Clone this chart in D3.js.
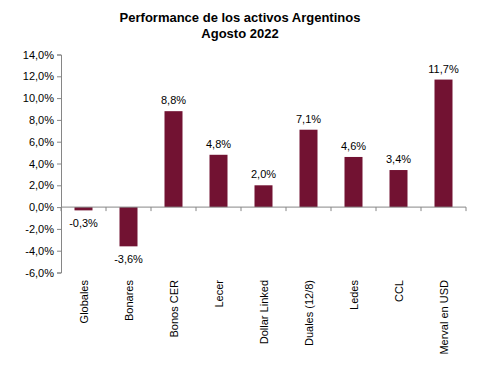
<!DOCTYPE html>
<html><head><meta charset="utf-8">
<script src="https://cdn.jsdelivr.net/npm/d3@7"></script>
<style>body{margin:0;background:#fff}svg{display:block}text{font-family:"Liberation Sans",Arial,sans-serif}</style>
</head><body>
<script>
const categories = ["Globales","Bonares","Bonos CER","Lecer","Dollar Linked","Duales (12/8)","Ledes","CCL","Merval en USD"];
const values = [-0.3,-3.6,8.8,4.8,2.0,7.1,4.6,3.4,11.7];
const yTicks = [-6,-4,-2,0,2,4,6,8,10,12,14];
const titleLines = ["Performance de los activos Argentinos","Agosto 2022"];

const W=480,H=368;
const svg=d3.select("body").append("svg").attr("width",W).attr("height",H);
const x=d3.scaleBand().domain(categories).range([61,466]).paddingInner(0.6).paddingOuter(0.3);
const xb=d3.scaleBand().domain(categories).range([61,466]);
const y=d3.scaleLinear().domain([-6,14]).range([272.5,54.5]);
const fmt=v=>(v<0?"-":"")+Math.abs(v).toFixed(1).replace(".",",")+"%";
const axisColor="#868686";

svg.selectAll("text.title").data(titleLines).join("text")
 .attr("x",240).attr("y",(d,i)=>22+i*16).attr("text-anchor","middle")
 .attr("font-size",13).attr("font-weight","bold").text(d=>d);

// y axis
const ya=svg.append("g").attr("transform","translate(61,0)")
 .call(d3.axisLeft(y).tickValues(yTicks).tickSize(4).tickSizeOuter(4).tickFormat(fmt).tickPadding(3));
ya.select(".domain").attr("stroke",axisColor);
ya.selectAll(".tick line").attr("stroke",axisColor);
ya.selectAll(".tick text").attr("font-size",11).attr("fill","#000").attr("font-family","Liberation Sans, Arial, sans-serif");

// bars
svg.selectAll("rect.bar").data(values).join("rect")
 .attr("x",(d,i)=>x(categories[i])).attr("width",x.bandwidth())
 .attr("y",d=>y(Math.max(0,d))).attr("height",d=>Math.abs(y(d)-y(0)))
 .attr("fill","#721232");

// x axis at zero
const xa=svg.append("g").attr("transform",`translate(0,${y(0)})`);
xa.append("line").attr("x1",61).attr("x2",466).attr("stroke",axisColor);
xa.selectAll("line.t").data(d3.range(categories.length+1)).join("line")
 .attr("x1",i=>61+i*xb.bandwidth()).attr("x2",i=>61+i*xb.bandwidth())
 .attr("y1",0).attr("y2",4).attr("stroke",axisColor);

// value labels
svg.selectAll("text.val").data(values).join("text")
 .attr("x",(d,i)=>x(categories[i])+x.bandwidth()/2)
 .attr("y",d=>d>=0?y(d)-7:y(d)+17)
 .attr("text-anchor","middle").attr("font-size",11).text(d=>fmt(d));

// category labels
svg.selectAll("text.cat").data(categories).join("text")
 .attr("transform",d=>`translate(${xb(d)+xb.bandwidth()/2+4},280) rotate(-90)`)
 .attr("text-anchor","end").attr("font-size",11).text(d=>d);
</script>
</body></html>
